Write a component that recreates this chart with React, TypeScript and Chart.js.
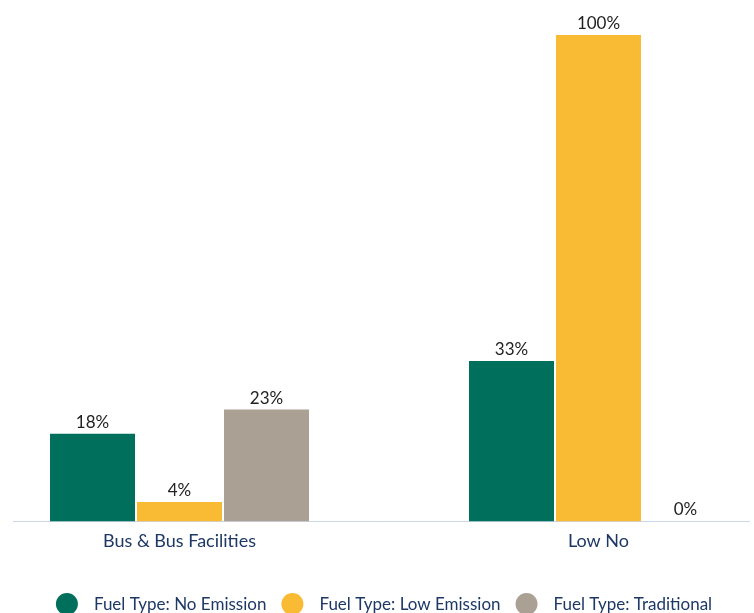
import React, { useEffect, useRef } from 'react';
import { Chart, registerables } from 'chart.js';

Chart.register(...registerables);

const categories = ['Bus & Bus Facilities', 'Low No'];
const seriesNames = ['Fuel Type: No Emission', 'Fuel Type: Low Emission', 'Fuel Type: Traditional'];
const noEmission = [18, 33];
const lowEmission = [4, 100];
const traditional = [23, 0];
const seriesColors = ['#00705c', '#f8bb33', '#aba094'];

const FONT = 'Lato, "Open Sans", sans-serif';
const NAVY = '#1e3866';

const valueLabels = {
  id: 'valueLabels',
  afterDatasetsDraw(chart: any) {
    const ctx = chart.ctx;
    ctx.save();
    ctx.font = `17px ${FONT}`;
    ctx.fillStyle = '#222222';
    ctx.textAlign = 'center';
    ctx.textBaseline = 'alphabetic';
    chart.data.datasets.forEach((ds: any, di: number) => {
      const meta = chart.getDatasetMeta(di);
      meta.data.forEach((el: any, i: number) => {
        const v = ds.data[i].y;
        ctx.fillText(`${v}%`, el.x, el.y - 6);
      });
    });
    ctx.restore();
  },
};

const bottomLegend = {
  id: 'bottomLegend',
  afterDraw(chart: any) {
    const ctx = chart.ctx;
    ctx.save();
    ctx.font = `17px ${FONT}`;
    const r = 11;
    const gapText = 16;
    const gapItem = 15;
    const widths = chart.data.datasets.map((ds: any) => ctx.measureText(ds.label).width);
    const total =
      widths.reduce((a: number, w: number) => a + 2 * r + gapText + w, 0) + gapItem * (widths.length - 1);
    let x = 384 - total / 2;
    const cy = 604;
    chart.data.datasets.forEach((ds: any, i: number) => {
      ctx.fillStyle = ds.backgroundColor;
      ctx.beginPath();
      ctx.arc(x + r, cy, r, 0, Math.PI * 2);
      ctx.fill();
      x += 2 * r + gapText;
      ctx.fillStyle = NAVY;
      ctx.textAlign = 'left';
      ctx.textBaseline = 'alphabetic';
      ctx.fillText(ds.label, x, 610);
      x += widths[i] + gapItem;
    });
    ctx.restore();
  },
};

export default function App() {
  const ref = useRef<HTMLCanvasElement>(null);

  useEffect(() => {
    if (!ref.current) return;
    const series = [noEmission, lowEmission, traditional];
    const chart = new Chart(ref.current, {
      type: 'bar',
      data: {
        datasets: series.map((vals, si) => ({
          label: seriesNames[si],
          data: vals.map((v, i) => ({ x: i, y: v })),
          backgroundColor: seriesColors[si],
          borderWidth: 0,
          categoryPercentage: 261 / 419,
          barPercentage: 85 / 87,
        })),
      },
      options: {
        animation: false,
        responsive: false,
        layout: { padding: { left: 13, right: 5, top: 35, bottom: 52 } },
        plugins: { legend: { display: false }, tooltip: { enabled: false } },
        scales: {
          x: {
            type: 'linear',
            offset: false,
            bounds: 'data',
            min: -0.3974,
            max: 1.3592,
            afterBuildTicks: (s: any) => {
              s.ticks = categories.map((_, i) => ({ value: i }));
            },
            ticks: {
              callback: (v: any) => categories[v] ?? '',
              font: { size: 18, family: FONT },
              color: NAVY,
              padding: 9,
              autoSkip: false,
              maxRotation: 0,
            },
            grid: { display: false, drawTicks: false, offset: false },
            border: { display: true, color: '#ccd6eb', width: 1 },
          },
          y: { display: false, min: 0, max: 100 },
        },
      },
      plugins: [valueLabels, bottomLegend],
    } as any);
    return () => chart.destroy();
  }, []);

  return (
    <div style={{ position: 'fixed', left: 0, top: 0, width: 754, height: 613, background: '#fff' }}>
      <canvas ref={ref} width={754} height={613} style={{ width: 754, height: 613, display: 'block' }} />
    </div>
  );
}
